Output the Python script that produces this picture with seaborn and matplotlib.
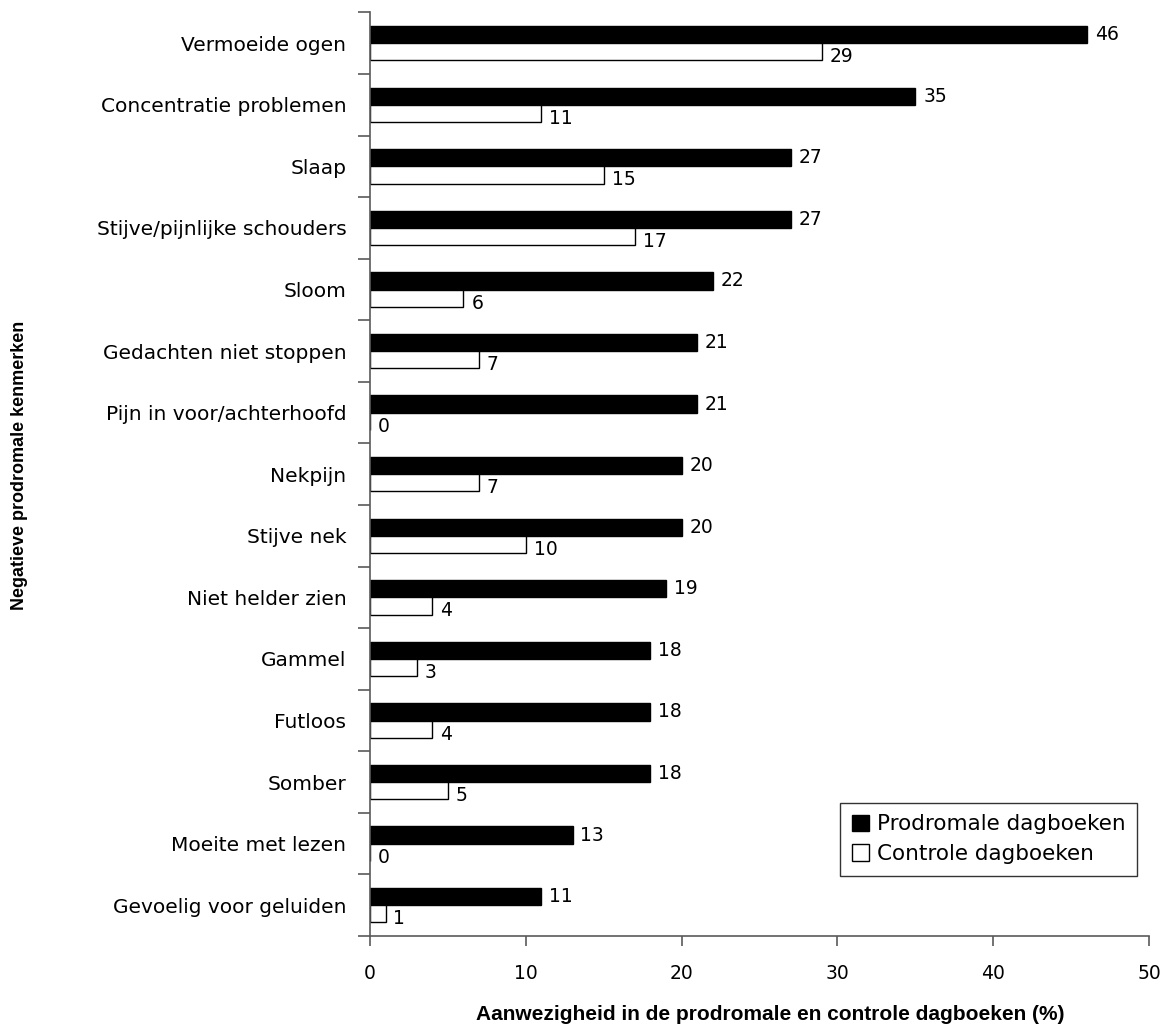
import matplotlib
matplotlib.use("Agg")
import matplotlib.pyplot as plt
import seaborn as sns
import pandas as pd
import numpy as np

categories = [
    "Vermoeide ogen", "Concentratie problemen", "Slaap", "Stijve/pijnlijke schouders",
    "Sloom", "Gedachten niet stoppen", "Pijn in voor/achterhoofd", "Nekpijn",
    "Stijve nek", "Niet helder zien", "Gammel", "Futloos", "Somber",
    "Moeite met lezen", "Gevoelig voor geluiden",
]
prodromaal = [46, 35, 27, 27, 22, 21, 21, 20, 20, 19, 18, 18, 18, 13, 11]
controle = [29, 11, 15, 17, 6, 7, 0, 7, 10, 4, 3, 4, 5, 0, 1]
series_names = ["Prodromale dagboeken", "Controle dagboeken"]
x_ticks = [0, 10, 20, 30, 40, 50]

df = pd.DataFrame({
    "kenmerk": categories * 2,
    "waarde": prodromaal + controle,
    "reeks": [series_names[0]] * len(categories) + [series_names[1]] * len(categories),
})

sns.set_style("white")
plt.rcParams["font.family"] = ["DejaVu Sans"]
plt.rcParams["text.color"] = "black"
plt.rcParams["xtick.color"] = "black"
plt.rcParams["ytick.color"] = "black"
plt.rcParams["axes.labelcolor"] = "black"

fig = plt.figure(figsize=(11.69, 10.36), dpi=100)
ax = fig.add_axes([0.3165, 0.0965, 0.6665, 0.8915])

sns.barplot(data=df, y="kenmerk", x="waarde", hue="reeks", orient="h",
            order=categories, hue_order=series_names,
            palette=["black", "white"], edgecolor="black", linewidth=1.0,
            width=0.56, ax=ax, legend=True)

# value labels next to each bar end
for cont, dy in zip(ax.containers, (0.0, 0.08)):
    for bar in cont:
        w = bar.get_width()
        yc = bar.get_y() + bar.get_height() / 2 + dy
        ax.text(w + 0.5, yc, f"{int(round(w))}", va="center", ha="left",
                fontsize=13.5, color="black")

ax.set_xlim(0, 50)
ax.set_ylim(len(categories) - 0.5, -0.5)
ax.set_xticks(x_ticks)
ax.set_xticklabels([str(t) for t in x_ticks], fontsize=13.5)
ax.tick_params(axis="x", which="major", bottom=True, direction="out", length=7,
               width=1.2, color="#5a5a5a", labelcolor="black", pad=13)

ax.set_yticks(range(len(categories)))
ax.set_yticklabels(categories, fontsize=14.5)
ax.tick_params(axis="y", which="major", left=True, length=0, pad=17, labelcolor="black")
ax.set_yticks(np.arange(-0.5, len(categories), 1.0), minor=True)
ax.tick_params(axis="y", which="minor", left=True, direction="out", length=9,
               width=1.2, color="#5a5a5a")

for side in ("top", "right"):
    ax.spines[side].set_visible(False)
for side in ("left", "bottom"):
    ax.spines[side].set_color("#5a5a5a")
    ax.spines[side].set_linewidth(1.2)

ax.set_xlabel("Aanwezigheid in de prodromale en controle dagboeken (%)",
              fontsize=15, fontweight="bold", family=["Liberation Sans", "DejaVu Sans"],
              labelpad=22)
ax.xaxis.set_label_coords(0.514, -0.085)
ax.xaxis.label.set_va("center")
ax.set_ylabel("Negatieve prodromale kenmerken", fontsize=13, fontweight="bold",
              family=["Liberation Sans", "DejaVu Sans"])
ax.yaxis.set_label_coords(-0.439, 0.51)

handles, labels = ax.get_legend_handles_labels()
leg = ax.legend(handles, labels, loc="lower right", bbox_to_anchor=(0.985, 0.065),
                fontsize=15.5, frameon=True, fancybox=False, handlelength=0.8,
                handleheight=0.8, handletextpad=0.35, borderpad=0.55, labelspacing=0.45,
                borderaxespad=0)
leg.get_frame().set_edgecolor("black")
leg.get_frame().set_linewidth(1.0)

fig.savefig("out.png", dpi=100, facecolor="white")
